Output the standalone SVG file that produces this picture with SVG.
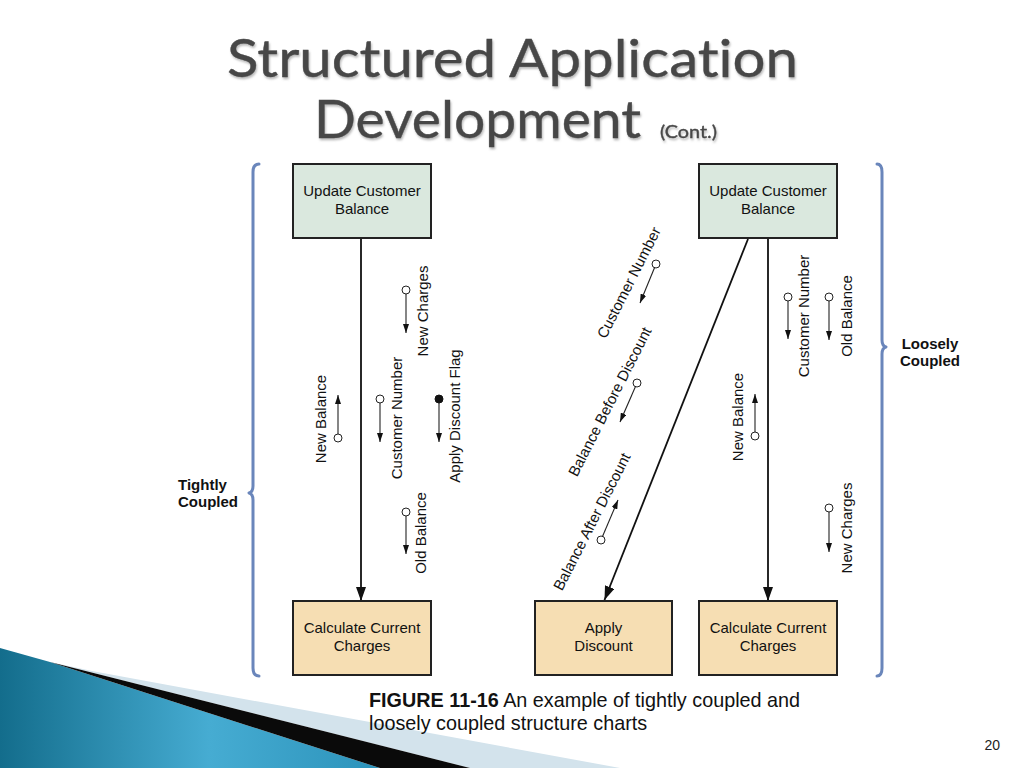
<svg xmlns="http://www.w3.org/2000/svg" width="1024" height="768" viewBox="0 0 1024 768">
  <defs>
    <style>
      .title { font-family: Lato, "Open Sans", "DejaVu Sans", sans-serif; fill: #474747; stroke: #474747; stroke-width: 0.4; font-variant-ligatures: none; font-feature-settings: "liga" 0, "clig" 0; }
      .box-g { fill: #dae8de; stroke: #222222; stroke-width: 2; }
      .box-t { fill: #f6deb3; stroke: #222222; stroke-width: 2; }
      .bt { font-family: "Liberation Sans", Arial, Helvetica, sans-serif; font-size: 15px; fill: #111111; text-anchor: middle; }
      .lbl { font-family: "Liberation Sans", Arial, Helvetica, sans-serif; font-size: 15px; fill: #111111; text-anchor: middle; }
      .side { font-family: "Liberation Sans", Arial, Helvetica, sans-serif; font-size: 15px; font-weight: bold; fill: #111111; }
      .main { stroke: #111111; stroke-width: 1.8; fill: none; marker-end: url(#bigArrow); }
      .cpl { stroke: #222222; stroke-width: 1.1; fill: none; marker-end: url(#smallArrow); }
      .ring { fill: #ffffff; stroke: #222222; stroke-width: 1; }
      .dot { fill: #111111; stroke: #111111; stroke-width: 1; }
      .brace { fill: none; stroke: #6a86bb; stroke-width: 3; stroke-linecap: round; stroke-linejoin: round; }
      .cap { font-family: "Liberation Sans", Arial, Helvetica, sans-serif; font-size: 19.8px; fill: #111111; }
    </style>
    <marker id="bigArrow" viewBox="0 0 14 10" refX="14" refY="5" markerWidth="14" markerHeight="10" markerUnits="userSpaceOnUse" orient="auto">
      <path d="M0,0 L14,5 L0,10 Z" fill="#111111"/>
    </marker>
    <marker id="smallArrow" viewBox="0 0 9 6" refX="9" refY="3" markerWidth="9" markerHeight="6" markerUnits="userSpaceOnUse" orient="auto">
      <path d="M0,0 L9,3 L0,6 Z" fill="#111111"/>
    </marker>
    <linearGradient id="blueGrad" x1="0" y1="0" x2="1" y2="0">
      <stop offset="0" stop-color="#136d8c"/>
      <stop offset="0.55" stop-color="#46acd2"/>
      <stop offset="1" stop-color="#2c93bb"/>
    </linearGradient>
    <filter id="emboss" x="-5%" y="-20%" width="110%" height="140%">
      <feDropShadow dx="1" dy="2" stdDeviation="1.2" flood-color="#8a8a8a" flood-opacity="0.6"/>
    </filter>
  </defs>

  <rect x="0" y="0" width="1024" height="768" fill="#ffffff"/>

  <!-- bottom-left decoration -->
  <g id="decoration">
    <polygon points="0,648 50,662 380,768 0,768" fill="url(#blueGrad)"/>
    <polygon points="50,662 92,671 620,768 470,768" fill="#d3e3ec"/>
    <polygon points="50,662 470,768 380,768" fill="#0a0a0a"/>
  </g>

  <!-- title -->
  <g id="title" filter="url(#emboss)">
    <text class="title" x="227" y="77" font-size="52" textLength="571" lengthAdjust="spacingAndGlyphs">Structured Application</text>
    <text class="title" x="314" y="138" font-size="52" textLength="327" lengthAdjust="spacingAndGlyphs">Development</text>
    <text class="title" x="660" y="138" font-size="18" textLength="57" lengthAdjust="spacingAndGlyphs" stroke-width="0.2">(Cont.)</text>
  </g>

  <!-- braces -->
  <g id="brace-tight">
    <path class="brace" d="M259,164 Q253,164 253,172 L253,486 Q253,492 249,493 Q253,494 253,500 L253,668 Q253,676 259,676"/>
    <text class="side" x="178" y="490">Tightly</text>
    <text class="side" x="178" y="507">Coupled</text>
  </g>
  <g id="brace-loose">
    <path class="brace" d="M877,164 Q882,164 882,172 L882,340 Q882,346 886,347 Q882,348 882,354 L882,668 Q882,676 877,676"/>
    <text class="side" x="930" y="349" text-anchor="middle">Loosely</text>
    <text class="side" x="930" y="366" text-anchor="middle">Coupled</text>
  </g>

  <!-- connectors -->
  <g id="connectors">
    <line class="main" x1="361" y1="239" x2="361" y2="601"/>
    <line class="main" x1="768" y1="239" x2="768" y2="601"/>
    <line class="main" x1="748" y1="239" x2="604.5" y2="600"/>
  </g>

  <!-- nodes -->
  <g id="node-left-update">
    <rect class="box-g" x="293" y="164" width="138" height="74"/>
    <text class="bt" x="362" y="196">Update Customer</text>
    <text class="bt" x="362" y="214">Balance</text>
  </g>
  <g id="node-left-calc">
    <rect class="box-t" x="293" y="601" width="138" height="74"/>
    <text class="bt" x="362" y="633">Calculate Current</text>
    <text class="bt" x="362" y="651">Charges</text>
  </g>
  <g id="node-right-update">
    <rect class="box-g" x="699" y="164" width="138" height="74"/>
    <text class="bt" x="768" y="196">Update Customer</text>
    <text class="bt" x="768" y="214">Balance</text>
  </g>
  <g id="node-apply-discount">
    <rect class="box-t" x="535" y="601" width="137" height="74"/>
    <text class="bt" x="603.5" y="633">Apply</text>
    <text class="bt" x="603.5" y="651">Discount</text>
  </g>
  <g id="node-right-calc">
    <rect class="box-t" x="699" y="601" width="138" height="74"/>
    <text class="bt" x="768" y="633">Calculate Current</text>
    <text class="bt" x="768" y="651">Charges</text>
  </g>

  <!-- data couples: tightly coupled chart -->
  <g id="couples-tight">
    <g id="tc-new-charges">
      <line class="cpl" x1="406" y1="294" x2="406" y2="333"/>
      <circle class="ring" cx="406" cy="290" r="4"/>
      <text class="lbl" transform="translate(428,311) rotate(-90)">New Charges</text>
    </g>
    <g id="tc-new-balance">
      <line class="cpl" x1="338" y1="434" x2="338" y2="395"/>
      <circle class="ring" cx="338" cy="438" r="4"/>
      <text class="lbl" transform="translate(326,419) rotate(-90)">New Balance</text>
    </g>
    <g id="tc-customer-number">
      <line class="cpl" x1="380" y1="403" x2="380" y2="442"/>
      <circle class="ring" cx="380" cy="399" r="4"/>
      <text class="lbl" transform="translate(402,418) rotate(-90)">Customer Number</text>
    </g>
    <g id="tc-apply-discount-flag">
      <line class="cpl" x1="439" y1="403" x2="439" y2="442"/>
      <circle class="dot" cx="439" cy="399" r="4"/>
      <text class="lbl" transform="translate(460,416) rotate(-90)">Apply Discount Flag</text>
    </g>
    <g id="tc-old-balance">
      <line class="cpl" x1="406" y1="516" x2="406" y2="554"/>
      <circle class="ring" cx="406" cy="512" r="4"/>
      <text class="lbl" transform="translate(426,533) rotate(-90)">Old Balance</text>
    </g>
  </g>

  <!-- data couples: loosely coupled chart -->
  <g id="couples-loose">
    <g id="lc-customer-number-diag">
      <line class="cpl" x1="654.5" y1="267.7" x2="640" y2="303"/>
      <circle class="ring" cx="656" cy="264" r="4"/>
      <text class="lbl" transform="translate(633.5,285) rotate(-63)">Customer Number</text>
    </g>
    <g id="lc-balance-before">
      <line class="cpl" x1="635.4" y1="386.7" x2="620" y2="422"/>
      <circle class="ring" cx="637" cy="383" r="4"/>
      <text class="lbl" transform="translate(614.5,404) rotate(-63)">Balance Before Discount</text>
    </g>
    <g id="lc-balance-after">
      <line class="cpl" x1="602.6" y1="536.3" x2="618" y2="500"/>
      <circle class="ring" cx="601" cy="540" r="4"/>
      <text class="lbl" transform="translate(596.5,524) rotate(-63)">Balance After Discount</text>
    </g>
    <g id="lc-customer-number">
      <line class="cpl" x1="788" y1="301" x2="788" y2="339"/>
      <circle class="ring" cx="788" cy="297" r="4"/>
      <text class="lbl" transform="translate(809,316) rotate(-90)">Customer Number</text>
    </g>
    <g id="lc-old-balance">
      <line class="cpl" x1="829" y1="301" x2="829" y2="340"/>
      <circle class="ring" cx="829" cy="297" r="4"/>
      <text class="lbl" transform="translate(852,316) rotate(-90)">Old Balance</text>
    </g>
    <g id="lc-new-balance">
      <line class="cpl" x1="755" y1="432" x2="755" y2="394"/>
      <circle class="ring" cx="755" cy="436" r="4"/>
      <text class="lbl" transform="translate(743,417) rotate(-90)">New Balance</text>
    </g>
    <g id="lc-new-charges">
      <line class="cpl" x1="829" y1="512" x2="829" y2="552"/>
      <circle class="ring" cx="829" cy="508" r="4"/>
      <text class="lbl" transform="translate(852,528) rotate(-90)">New Charges</text>
    </g>
  </g>

  <!-- caption -->
  <g id="caption">
    <text class="cap" x="369" y="707"><tspan font-weight="bold">FIGURE 11-16</tspan> An example of tightly coupled and</text>
    <text class="cap" x="369" y="730">loosely coupled structure charts</text>
  </g>
  <text id="slide-number" x="1000" y="750" font-family="'Liberation Sans', Arial, sans-serif" font-size="14" fill="#222222" text-anchor="end">20</text>
</svg>
